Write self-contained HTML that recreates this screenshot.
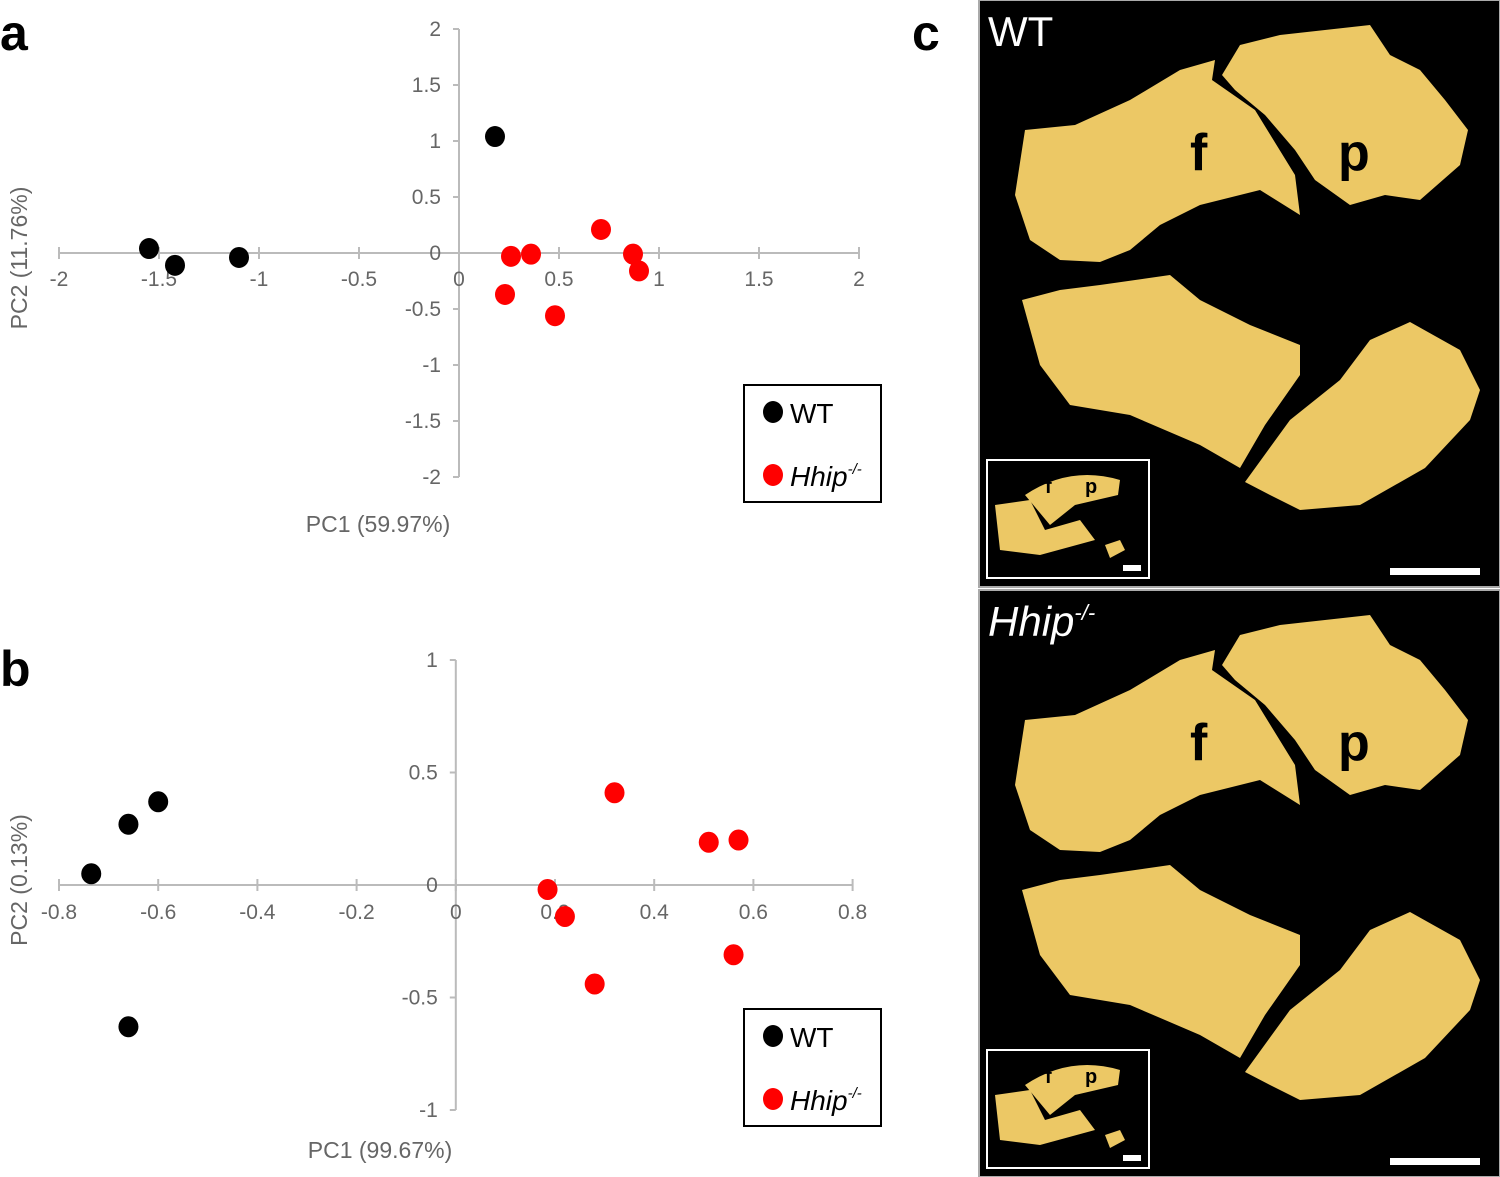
<!DOCTYPE html>
<html><head><meta charset="utf-8"><style>
html,body{margin:0;padding:0;background:#fff;}
svg{display:block;font-family:"Liberation Sans",sans-serif;}
</style></head><body>
<svg id="fig" width="1500" height="1177" viewBox="0 0 1500 1177">
<text x="0" y="50" font-size="50" font-weight="bold" fill="#000">a</text>
<text x="0" y="686" font-size="50" font-weight="bold" fill="#000">b</text>
<text x="912" y="50" font-size="50" font-weight="bold" fill="#000">c</text>
<g id="chartA"></g>
<g id="chartB"></g>
<g id="panelC"></g>
</svg>
<script>
const NS="http://www.w3.org/2000/svg";
// Chart A data
const aWTx=[0.18,-1.55,-1.42,-1.1];
const aWTy=[1.04,0.04,-0.11,-0.04];
const aHx=[0.71,0.26,0.36,0.87,0.9,0.23,0.48];
const aHy=[0.21,-0.03,-0.01,-0.01,-0.16,-0.37,-0.56];
const aXticks=[-2,-1.5,-1,-0.5,0,0.5,1,1.5,2];
const aYticks=[2,1.5,1,0.5,0,-0.5,-1,-1.5,-2];
// Chart B data
const bWTx=[-0.6,-0.66,-0.735,-0.66];
const bWTy=[0.37,0.27,0.05,-0.63];
const bHx=[0.32,0.51,0.57,0.185,0.22,0.28,0.56];
const bHy=[0.41,0.19,0.2,-0.02,-0.14,-0.44,-0.31];
const bXticks=[-0.8,-0.6,-0.4,-0.2,0,0.2,0.4,0.6,0.8];
const bYticks=[1,0.5,0,-0.5,-1];

function mk(tag,attrs,parent,text){const e=document.createElementNS(NS,tag);for(const k in attrs)e.setAttribute(k,attrs[k]);if(text!==undefined)e.textContent=text;parent.appendChild(e);return e;}

function chart(g,cfg){
  const sx=v=>cfg.x0+(v-cfg.xmin)*cfg.xs, sy=v=>cfg.y0-(v-cfg.ymin)*cfg.ys;
  const ox=sx(0), oy=sy(0);
  const xa=mk('line',{x1:sx(cfg.xt[0]),x2:sx(cfg.xt[cfg.xt.length-1]),y1:oy,y2:oy,stroke:'#bbb','stroke-width':2},g);
  
  
  const ya=mk('line',{x1:ox,x2:ox,y1:sy(cfg.yt[0]),y2:sy(cfg.yt[cfg.yt.length-1]),stroke:'#bbb','stroke-width':2},g);
  
  
  cfg.xt.forEach(v=>{
    mk('line',{x1:sx(v),x2:sx(v),y1:oy-6,y2:oy+6,stroke:'#bbb','stroke-width':2},g);
    const t=mk('text',{x:sx(v),y:oy+cfg.xlOff,'font-size':21,fill:'#666','text-anchor':'middle'},g,String(v));
    
    
  });
  cfg.yt.forEach(v=>{
    mk('line',{x1:ox-6,x2:ox,y1:sy(v),y2:sy(v),stroke:'#bbb','stroke-width':2},g);
    const t=mk('text',{x:ox-18,y:sy(v)+7,'font-size':21,fill:'#666','text-anchor':'end'},g,String(v));
    
    
  });
  const drawPts=(xs,ys,col,name)=>xs.forEach((x,i)=>{
    const c=mk('ellipse',{cx:sx(x),cy:sy(ys[i]),rx:10,ry:10.5,fill:col},g);
    
    
  });
  drawPts(cfg.wx,cfg.wy,'#000','wt-point');
  drawPts(cfg.hx,cfg.hy,'#f00','hhip-point');
  const xt=mk('text',{x:cfg.xtitle[0],y:cfg.xtitle[1],'font-size':23,fill:'#666','text-anchor':'middle'},g,cfg.xlab);
  
  
  const yt=mk('text',{x:0,y:0,'font-size':23,fill:'#666','text-anchor':'middle',transform:`translate(27,${cfg.ytitleY}) rotate(-90)`},g,cfg.ylab);
  
  
  const L=cfg.leg;
  const lg=mk('g',{},g);
  
  
  mk('rect',{x:L,y:cfg.legY,width:137,height:117,fill:'#fff',stroke:'#000','stroke-width':2},lg);
  mk('ellipse',{cx:L+29,cy:cfg.legY+27,rx:10,ry:11,fill:'#000'},lg);
  mk('text',{x:L+46,y:cfg.legY+38,'font-size':28,fill:'#000'},lg,'WT');
  mk('ellipse',{cx:L+29,cy:cfg.legY+90,rx:10,ry:11,fill:'#f00'},lg);
  const h=mk('text',{x:L+46,y:cfg.legY+101,'font-size':28,fill:'#000','font-style':'italic'},lg,'Hhip');
  mk('tspan',{'font-size':15,dy:-12},h,'-/-');
}
chart(document.getElementById('chartA'),{x0:59,xmin:-2,xs:200,y0:477,ymin:-2,ys:112,xt:aXticks,yt:aYticks,xlOff:33,
  wx:aWTx,wy:aWTy,hx:aHx,hy:aHy,xlab:'PC1 (59.97%)',ylab:'PC2  (11.76%)',xtitle:[378,532],ytitleY:258,leg:744,legY:385});
chart(document.getElementById('chartB'),{x0:59,xmin:-0.8,xs:496,y0:1110,ymin:-1,ys:225,xt:bXticks,yt:bYticks,xlOff:34,
  wx:bWTx,wy:bWTy,hx:bHx,hy:bHy,xlab:'PC1 (99.67%)',ylab:'PC2  (0.13%)',xtitle:[380,1158],ytitleY:880,leg:744,legY:1009});

// Panel C
const pc=document.getElementById('panelC');
function panel(y0,title,italic){
  const g=mk('g',{},pc);
  
  
  mk('rect',{x:979,y:y0,width:521,height:587,fill:'#000',stroke:'#aaa','stroke-width':2},g);
  const d=y0;
  const gold='#ecc865';
  const shapes=[
   "1015,195 1025,130 1075,125 1130,100 1180,70 1215,60 1212,80 1255,110 1295,175 1300,215 1260,190 1200,205 1160,225 1130,250 1100,262 1060,260 1030,240",
   "1222,75 1240,45 1280,35 1370,25 1390,55 1420,70 1445,100 1468,130 1460,165 1420,200 1385,195 1350,205 1315,180 1295,150 1265,115 1235,90",
   "1022,300 1060,290 1100,285 1170,275 1200,300 1250,325 1300,345 1300,375 1265,425 1240,468 1200,445 1130,415 1070,405 1040,365",
   "1245,482 1290,420 1340,380 1370,340 1410,322 1460,350 1480,390 1470,420 1425,468 1360,505 1300,510 1270,495"
  ];
  shapes.forEach(s=>{
    const pts=s.split(' ').map(p=>{const[a,b]=p.split(',');return a+','+(+b+d);}).join(' ');
    mk('polygon',{points:pts,fill:gold},g);
  });
  mk('text',{x:1190,y:170+d,'font-size':52,'font-weight':'bold',fill:'#000'},g,'f');
  mk('text',{x:1338,y:170+d,'font-size':52,'font-weight':'bold',fill:'#000'},g,'p');
  const t=mk('text',{x:988,y:46+d,'font-size':42,fill:'#fff','font-style':italic?'italic':'normal'},g,title);
  if(italic)mk('tspan',{'font-size':22,dy:-16},t,'-/-');
  const iy=460+d;
  mk('rect',{x:987,y:iy,width:162,height:118,fill:'#000',stroke:'#fff','stroke-width':2},g);
  mk('path',{d:`M1025 ${iy+35} Q1070 ${iy+5} 1120 ${iy+20} L1118 ${iy+35} L1075 ${iy+45} L1050 ${iy+65} Z`,fill:gold},g);
  mk('path',{d:`M995 ${iy+45} L1030 ${iy+40} L1045 ${iy+70} L1080 ${iy+60} L1095 ${iy+80} L1040 ${iy+95} L1000 ${iy+90} Z`,fill:gold},g);
  mk('path',{d:`M1105 ${iy+85} L1120 ${iy+80} L1125 ${iy+90} L1110 ${iy+98} Z`,fill:gold},g);
  mk('text',{x:1045,y:iy+33,'font-size':20,'font-weight':'bold',fill:'#000'},g,'f');
  mk('text',{x:1085,y:iy+33,'font-size':20,'font-weight':'bold',fill:'#000'},g,'p');
  mk('rect',{x:1123,y:iy+105,width:18,height:6,fill:'#fff'},g);
  const sb=mk('rect',{x:1390,y:568+d,width:90,height:7,fill:'#fff'},g);
  
  
}
panel(0,'WT',false);
panel(590,'Hhip',true);
</script>
</body></html>
